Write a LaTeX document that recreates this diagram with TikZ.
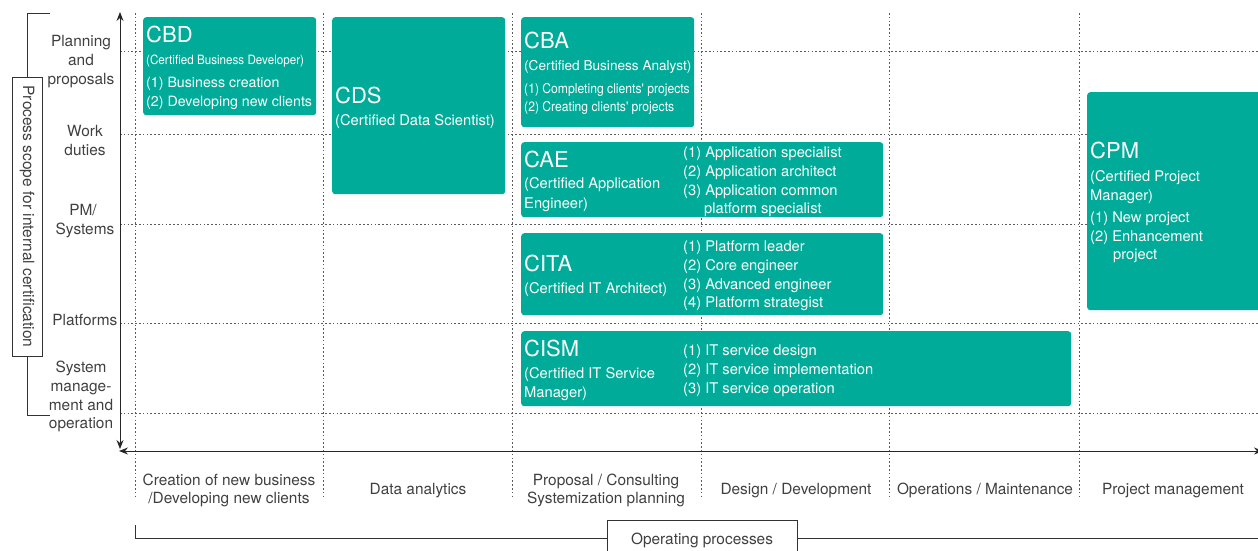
\documentclass[tikz,border=0pt]{standalone}
\usepackage{fontspec}
\setmainfont{TeX Gyre Heros}
\newfontfamily\condfont[FakeStretch=0.9]{TeX Gyre Heros}
\newfontfamily\semifont[FakeStretch=0.91]{TeX Gyre Heros}
\usetikzlibrary{arrows.meta,calc}
\definecolor{tealbox}{RGB}{0,172,153}
\definecolor{txtgray}{RGB}{64,64,64}
\definecolor{gridgray}{RGB}{90,90,90}
\begin{document}
\begin{tikzpicture}[x=1pt,y=-1pt,
  gridline/.style={draw=gridgray, dash pattern=on 1.6pt off 2.2pt, line width=1pt},
  certbox/.style={fill=tealbox, draw=none, rounded corners=3pt, anchor=north west, inner sep=0pt},
  wtitle/.style={text=white, anchor=base west, inner sep=0pt, font=\fontsize{22}{26}\selectfont},
  wtext/.style={text=white, anchor=base west, inner sep=0pt, font=\fontsize{14.7}{18}\selectfont},
  wcond/.style={text=white, anchor=base west, inner sep=0pt, font=\condfont\fontsize{13.5}{18}\selectfont},
  lbl/.style={text=txtgray, anchor=base, inner sep=0pt, font=\fontsize{15.4}{18}\selectfont},
  axis/.style={draw=black!85, line width=0.9pt, {Stealth[length=9pt,width=7pt,inset=3pt]}-{Stealth[length=9pt,width=7pt,inset=3pt]}},
  bracket/.style={draw=black!80, line width=0.8pt}
]
\useasboundingbox (0,0) rectangle (1258,550);
% grid
\foreach \gx in {135,323,512,701,889,1079}
  \draw[gridline] (\gx,13) -- (\gx,498);
\foreach \gy in {51,134,224,323,413}
  \draw[gridline] (120,\gy) -- (1258,\gy);
% axes
\coordinate (vtop) at (120,12);
\coordinate (vbot) at (120,449);
\coordinate (hleft) at (119,451);
\coordinate (hright) at (1263,451);
\draw[axis] (vbot) -- (vtop);
\draw[axis] (hleft) -- (hright);
% left bracket
\node[draw=black!80, line width=0.8pt, minimum width=30pt, minimum height=279pt, inner sep=0pt] (scope) at (27,216.5) {};
\node[text=txtgray, rotate=-90, inner sep=0pt, font=\fontsize{15.5}{18}\selectfont] (scopetxt) at (27,216.5) {Process scope for internal certification};
\coordinate (btl) at (50,13);
\coordinate (bbl) at (50,415);
\draw[bracket] (btl) -| (scope.north);
\draw[bracket] (scope.south) |- (bbl);
% row labels
\node[lbl] (r1a) at (81,46) {Planning};
\node[lbl] (r1b) at (81,65) {and};
\node[lbl] (r1c) at (81,84) {proposals};
\node[lbl] (r2a) at (85,136) {Work};
\node[lbl] (r2b) at (85,155) {duties};
\node[lbl] (r3a) at (83,215) {PM/};
\node[lbl] (r3b) at (85,234) {Systems};
\node[lbl, anchor=base east] (r4) at (117.5,325) {Platforms};
\node[lbl] (r5a) at (81,372) {System};
\node[lbl] (r5b) at (81,391) {manage-};
\node[lbl] (r5c) at (81,410) {ment and};
\node[lbl] (r5d) at (81,428) {operation};
% boxes
\node[certbox, minimum width=173pt, minimum height=98pt] (cbd) at (143,17) {};
\node[certbox, minimum width=173pt, minimum height=177pt] (cds) at (332,17) {};
\node[certbox, minimum width=173pt, minimum height=110pt] (cba) at (521,17) {};
\node[certbox, minimum width=362pt, minimum height=75pt] (cae) at (521,142) {};
\node[certbox, minimum width=362pt, minimum height=82pt] (cita) at (521,233) {};
\node[certbox, minimum width=550pt, minimum height=75pt] (cism) at (521,331) {};
\node[certbox, minimum width=180pt, minimum height=218pt] (cpm) at (1087,92) {};
% CBD
\node[wtitle] (cbdt) at (146,42) {CBD};
\node[wcond, font=\semifont\fontsize{12.8}{16}\selectfont] (cbds) at (146,64) {(Certified Business Developer)};
\node[wtext, font=\fontsize{14.2}{18}\selectfont] (cbd1) at (146,87) {(1) Business creation};
\node[wtext, font=\fontsize{14.2}{18}\selectfont] (cbd2) at (146,106) {(2) Developing new clients};
% CDS
\node[wtitle] (cdst) at (335,103) {CDS};
\node[wtext] (cdss) at (335,125) {(Certified Data Scientist)};
% CBA
\node[wtitle] (cbat) at (524,48) {CBA};
\node[wtext, font=\fontsize{13.6}{16}\selectfont] (cbas) at (524,70) {(Certified Business Analyst)};
\node[wcond] (cba1) at (524,93) {(1) Completing clients' projects};
\node[wcond] (cba2) at (524,111) {(2) Creating clients' projects};
% CAE
\node[wtitle] (caet) at (524,167) {CAE};
\node[wtext] (caes1) at (524,188) {(Certified Application};
\node[wtext] (caes2) at (524,208) {Engineer)};
\node[wtext] (cae1) at (683,157) {(1) Application specialist};
\node[wtext] (cae2) at (683,176) {(2) Application architect};
\node[wtext] (cae3) at (683,195) {(3) Application common};
\node[wtext] (cae4) at (704,213) {platform specialist};
% CITA
\node[wtitle] (citat) at (524,271) {CITA};
\node[wtext] (citas) at (524,293) {(Certified IT Architect)};
\node[wtext] (cita1) at (683,251) {(1) Platform leader};
\node[wtext] (cita2) at (683,270) {(2) Core engineer};
\node[wtext] (cita3) at (683,289) {(3) Advanced engineer};
\node[wtext] (cita4) at (683,307) {(4) Platform strategist};
% CISM
\node[wtitle] (cismt) at (524,356) {CISM};
\node[wtext] (cisms1) at (524,378) {(Certified IT Service};
\node[wtext] (cisms2) at (524,397) {Manager)};
\node[wtext] (cism1) at (683,355) {(1) IT service design};
\node[wtext] (cism2) at (683,374) {(2) IT service implementation};
\node[wtext] (cism3) at (683,393) {(3) IT service operation};
% CPM
\node[wtitle] (cpmt) at (1090,158) {CPM};
\node[wtext] (cpms1) at (1090,181) {(Certified Project};
\node[wtext] (cpms2) at (1090,200) {Manager)};
\node[wtext] (cpm1) at (1090,222) {(1) New project};
\node[wtext] (cpm2) at (1090,241) {(2) Enhancement};
\node[wtext] (cpm3) at (1113,259) {project};
% column labels
\node[lbl] (c1a) at (229,485) {Creation of new business};
\node[lbl] (c1b) at (229,503) {/Developing new clients};
\node[lbl] (c2) at (418,494) {Data analytics};
\node[lbl] (c3a) at (606,485) {Proposal / Consulting};
\node[lbl] (c3b) at (606,503) {Systemization planning};
\node[lbl] (c4) at (796,494) {Design / Development};
\node[lbl] (c5) at (985,494) {Operations / Maintenance};
\node[lbl] (c6) at (1173,494) {Project management};
% bottom bracket
\node[draw=black!80, line width=0.8pt, fill=white, minimum width=190pt, minimum height=34pt, inner sep=0pt, anchor=north west] (ops) at (607,520) {};
\node[lbl] (opstxt) at (702,544) {Operating processes};
\coordinate (bstart) at (135,525);
\coordinate (bend) at (1260,538);
\draw[bracket] (bstart) |- (ops.west |- bend);
\draw[bracket] (ops.east |- bend) -- (bend);
\end{tikzpicture}
\end{document}
